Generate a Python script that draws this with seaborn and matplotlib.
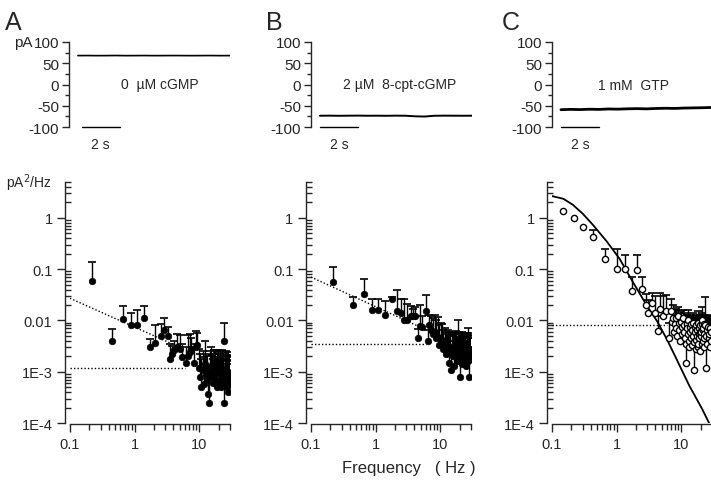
import numpy as np
import matplotlib
matplotlib.use("Agg")
import matplotlib.pyplot as plt
import seaborn as sns
from matplotlib.ticker import FixedLocator, FixedFormatter, LogLocator, NullFormatter

# ---- current traces (pA), sampled every 0.5 s
trace_t = [0.0, 0.5, 1.0, 1.5, 2.0, 2.5, 3.0, 3.5, 4.0, 4.5, 5.0, 5.5, 6.0, 6.5, 7.0, 7.5, 8.0]
trace_a = [68.0, 68.1, 67.9, 68.0, 68.2, 67.9, 68.0, 68.1, 67.9, 68.0, 68.1, 68.0, 67.9, 68.0, 68.1, 67.9, 68.0]
trace_b = [-73.5, -73.3, -73.6, -73.4, -73.2, -73.5, -73.4, -73.6, -73.3, -73.5, -74.8, -75.4, -73.6, -73.3, -73.4, -73.5, -73.4]
trace_c = [-59.3, -58.5, -59.0, -58.2, -58.6, -57.6, -58.0, -57.2, -56.8, -57.3, -56.4, -55.9, -56.3, -55.4, -55.0, -54.6, -54.0]
trace_labels = ["0  \u00b5M cGMP", "2 \u00b5M  8-cpt-cGMP", "1 mM  GTP"]
label_t = [4.3, 4.2, 3.8]
bar_start = [0.2, 0.0, 0.0]
bar_len = 2.0
top_ticks = [-100, -50, 0, 50, 100]
top_minor = [-75, -25, 25, 75]

# ---- power spectra (pA^2/Hz): frequency, mean, top of error bar
freq_a = [0.22, 0.44, 0.66, 0.88, 1.08, 1.40, 1.75, 2.10, 2.55, 2.85, 3.25, 3.55, 3.80, 4.10, 4.55,
          5.00, 5.50, 6.20, 6.70, 7.10, 7.60, 8.20, 8.80, 9.40, 9.90, 10.4, 10.8, 11.3, 11.8, 12.3,
          12.8, 13.2, 13.7, 14.2, 14.7, 15.2, 15.7, 16.2, 16.7, 17.2, 17.7, 18.2, 18.7, 19.2, 19.7,
          20.2, 20.7, 21.2, 21.7, 22.2, 22.7, 23.2, 23.8, 24.3, 24.8, 25.3, 25.8, 26.3, 26.8, 27.3,
          27.8, 28.3, 28.8, 29.3, 29.8]
psd_a = [0.060, 0.0039, 0.0105, 0.0080, 0.0081, 0.011, 0.0030, 0.0037, 0.0050, 0.0066, 0.0050, 0.0018,
         0.0022, 0.0027, 0.0030, 0.0028, 0.0019, 0.0015, 0.0020, 0.0024, 0.0028, 0.0015, 0.0030, 0.0033,
         0.0012, 0.0008, 0.00051, 0.0011, 0.00058, 0.0014, 0.0009, 0.0007, 0.00037, 0.00025, 0.0010,
         0.0013, 0.0008, 0.0006, 0.0011, 0.0009, 0.0013, 0.0007, 0.0005, 0.0010, 0.0012, 0.0006, 0.0009,
         0.0011, 0.0005, 0.0008, 0.0012, 0.0007, 0.0039, 0.00024, 0.0010, 0.0006, 0.0009, 0.0011, 0.0005,
         0.0008, 0.0004, 0.0010, 0.0007, 0.0009, 0.0006]
top_a = [0.14, 0.0068, 0.019, 0.014, 0.016, 0.019, 0.0043, 0.0080, 0.0085, 0.011, 0.0073, 0.0035,
         0.0032, 0.0040, 0.0055, 0.0052, 0.0035, 0.0030, 0.0052, 0.0055, 0.0045, 0.0035, 0.0063, 0.0058,
         0.0028, 0.0022, 0.0018, 0.0025, 0.0019, 0.0040, 0.0022, 0.0020, 0.0012, 0.0010, 0.0025,
         0.0030, 0.0021, 0.0018, 0.0026, 0.0022, 0.0027, 0.0019, 0.0016, 0.0024, 0.0026, 0.0018, 0.0022,
         0.0025, 0.0017, 0.0020, 0.0027, 0.0019, 0.0088, 0.0009, 0.0023, 0.0018, 0.0021, 0.0025, 0.0016,
         0.0020, 0.0014, 0.0024, 0.0019, 0.0021, 0.0017]

freq_b = [0.22, 0.44, 0.65, 0.87, 1.10, 1.40, 1.78, 2.15, 2.50, 2.80, 3.10, 3.50, 3.80, 4.10, 4.50,
          4.80, 5.20, 6.00, 6.40, 6.80, 7.20, 7.70, 8.20, 8.70, 9.20, 9.70, 10.2, 10.7, 11.2, 11.7,
          12.2, 12.7, 13.2, 13.6, 14.1, 14.6, 15.1, 15.6, 16.1, 16.6, 17.1, 17.6, 18.1, 18.6, 19.1,
          19.6, 20.1, 20.6, 21.1, 21.6, 22.1, 22.6, 23.1, 23.6, 24.1, 24.6, 25.1, 25.6, 26.1, 26.6,
          27.1, 27.6, 28.1, 28.6, 29.1, 29.6]
psd_b = [0.055, 0.020, 0.033, 0.016, 0.016, 0.013, 0.026, 0.0155, 0.014, 0.010, 0.010, 0.012, 0.012,
         0.012, 0.0046, 0.0078, 0.0075, 0.0155, 0.0039, 0.0080, 0.0065, 0.0055, 0.0060, 0.0045, 0.0048,
         0.0033, 0.0036, 0.0041, 0.0028, 0.0035, 0.0022, 0.0023, 0.0030, 0.0015, 0.0025, 0.00106,
         0.0030, 0.0020, 0.0027, 0.0013, 0.0022, 0.0030, 0.0016, 0.0025, 0.0021, 0.0033, 0.00079,
         0.0024, 0.0018, 0.0028, 0.0014, 0.0022, 0.0030, 0.0017, 0.0025, 0.0020, 0.0013, 0.0027,
         0.0019, 0.0024, 0.0016, 0.0008, 0.0022, 0.0028, 0.0018, 0.0023]
top_b = [0.11, 0.028, 0.064, 0.026, 0.026, 0.024, 0.029, 0.040, 0.026, 0.026, 0.021, 0.019, 0.017,
         0.018, 0.0069, 0.020, 0.012, 0.032, 0.0065, 0.013, 0.012, 0.011, 0.013, 0.010, 0.0115,
         0.0080, 0.0090, 0.0085, 0.0065, 0.0070, 0.0060, 0.0055, 0.0065, 0.0050, 0.0060, 0.0030,
         0.0058, 0.0052, 0.0060, 0.0040, 0.0055, 0.0062, 0.0045, 0.0058, 0.0100, 0.0060, 0.0022,
         0.0055, 0.0048, 0.0060, 0.0042, 0.0052, 0.0058, 0.0046, 0.0055, 0.0050, 0.0040, 0.0058,
         0.0048, 0.0070, 0.0045, 0.0025, 0.0052, 0.0057, 0.0046, 0.0050]

freq_c = [0.146, 0.218, 0.30, 0.43, 0.65, 1.00, 1.37, 1.76, 2.10, 2.50, 2.85, 3.10, 3.55, 4.00, 4.30,
          4.70, 5.30, 5.90, 6.50, 6.90, 7.2, 7.4, 7.7, 7.9, 8.2, 8.4, 8.7, 8.9, 9.2, 9.4, 9.7, 9.9,
          10.2, 10.4, 10.7, 10.9, 11.2, 11.4, 11.7, 11.9, 12.2, 12.4, 12.7, 12.9, 13.2, 13.4, 13.7,
          13.9, 14.2, 14.4, 14.7, 14.9, 15.2, 15.4, 15.7, 15.9, 16.2, 16.4, 16.7, 16.9, 17.2, 17.4,
          17.7, 17.9, 18.2, 18.4, 18.7, 18.9, 19.2, 19.4, 19.7, 19.9, 20.2, 20.4, 20.7, 20.9, 21.2,
          21.4, 21.7, 21.9, 22.2, 22.4, 22.7, 22.9, 23.4, 24.0, 24.5, 25.0, 25.5, 26.0, 26.5, 27.0,
          27.5, 28.0, 28.5, 29.0]
psd_c = [1.39, 1.00, 0.67, 0.42, 0.16, 0.10, 0.10, 0.037, 0.095, 0.041, 0.020, 0.0137, 0.022, 0.014,
         0.0062, 0.017, 0.012, 0.015, 0.0045, 0.015, 0.0095, 0.011, 0.0060, 0.0085, 0.011, 0.0070,
         0.0050, 0.012, 0.0090, 0.0065, 0.0040, 0.0095, 0.0075, 0.0055, 0.0110, 0.0080, 0.0060,
         0.0045, 0.0035, 0.0015, 0.0085, 0.0070, 0.0055, 0.0100, 0.0030, 0.0040, 0.0075, 0.0060,
         0.0045, 0.0085, 0.0065, 0.0033, 0.0090, 0.0050, 0.0038, 0.0011, 0.0060, 0.0075, 0.0042,
         0.0028, 0.0080, 0.0065, 0.0050, 0.0090, 0.0030, 0.0035, 0.0070, 0.0055, 0.0045, 0.0080,
         0.0060, 0.0025, 0.0050, 0.0060, 0.0085, 0.0100, 0.0035, 0.0040, 0.0065, 0.0070, 0.0055,
         0.0030, 0.0045, 0.0085, 0.0080, 0.0012, 0.0050, 0.0065, 0.0035, 0.0075, 0.0045, 0.0055,
         0.0030, 0.0070, 0.0040, 0.0060]
top_c = [np.nan, np.nan, np.nan, 0.59, 0.25, 0.25, 0.19, 0.07, 0.19, 0.07, 0.033, 0.025, 0.034, 0.030,
         0.012, 0.034, 0.030, 0.032, 0.009, 0.026, 0.015, 0.020, 0.011, 0.016, 0.017, 0.013, 0.010,
         0.018, 0.014, 0.012, 0.008, 0.015, 0.012, 0.011, 0.016, 0.014, 0.011, 0.0095, 0.0075,
         0.0048, 0.013, 0.013, 0.010, 0.016, 0.0070, 0.0085, 0.012, 0.012, 0.0090, 0.013, 0.011,
         0.0080, 0.014, 0.011, 0.0080, 0.0035, 0.011, 0.012, 0.0085, 0.0070, 0.013, 0.011, 0.010,
         0.015, 0.0070, 0.0080, 0.012, 0.010, 0.0090, 0.013, 0.011, 0.0065, 0.0095, 0.011, 0.014,
         0.018, 0.0075, 0.0085, 0.011, 0.012, 0.010, 0.0075, 0.0090, 0.013, 0.028, 0.004, 0.010,
         0.012, 0.008, 0.013, 0.009, 0.011, 0.007, 0.012, 0.009, 0.011]

# fitted components
slope_f = {"A": [0.1, 4.0], "B": [0.1, 6.0]}
slope_v = {"A": [0.027, 0.0034], "B": [0.070, 0.0066]}
flat_f = [0.1, 6.0]
flat_v = {"A": 0.0012, "B": 0.0034, "C": 0.008}
curve_f = [0.1, 0.15, 0.21, 0.30, 0.43, 0.70, 1.11, 1.76, 2.9, 4.27, 6.0, 8.4, 13.3, 21.0, 27.0, 30.0]
curve_v = [2.66, 2.35, 1.8, 1.2, 0.73, 0.35, 0.16, 0.058, 0.020, 0.0095, 0.0043, 0.0018, 0.00054,
           0.00019, 0.0001, 0.00008]

y_ticks = [1e-4, 1e-3, 0.01, 0.1, 1]
y_labels = ["1E-4", "1E-3", "0.01", "0.1", "1"]
x_ticks = [0.1, 1, 10]
x_labels = ["0.1", "1", "10"]

sns.set_style("ticks")
plt.rcParams["font.family"] = ["Liberation Sans", "DejaVu Sans"]
plt.rcParams["axes.linewidth"] = 1.0

W, H = 711, 481
fig = plt.figure(figsize=(W / 100, H / 100), dpi=100)
fig.patch.set_facecolor("white")

lefts_top = [69, 311, 552]
lefts_bot = [70, 311, 552]
traces = [trace_a, trace_b, trace_c]
trace_lw = [1.2, 1.4, 2.0]
letters = ["A", "B", "C"]
letter_x = [5, 266, 502]

# top row: current traces
for i in range(3):
    ax = fig.add_axes([lefts_top[i] / W, 1 - 128 / H, 161 / W, 85 / H])
    sns.lineplot(x=trace_t, y=traces[i], ax=ax, color="black", lw=trace_lw[i])
    ax.plot([bar_start[i], bar_start[i] + bar_len], [-100, -100], color="black", lw=1.0,
            clip_on=False)
    ax.annotate("2 s", xy=(bar_start[i] + bar_len / 2, -100), xytext=(0, -7),
                textcoords="offset points", ha="center", va="top", fontsize=10)
    ax.text(label_t[i], 0, trace_labels[i], ha="center", va="center", fontsize=10)
    ax.set_xlim(-0.47, 8.0)
    ax.set_ylim(-100, 100)
    for s in ["top", "right", "bottom"]:
        ax.spines[s].set_visible(False)
    ax.set_xticks([])
    ax.yaxis.set_major_locator(FixedLocator(top_ticks))
    ax.yaxis.set_minor_locator(FixedLocator(top_minor))
    ax.yaxis.set_major_formatter(FixedFormatter([str(v) for v in top_ticks]))
    ax.tick_params(axis="y", which="major", direction="out", length=5, width=1.0,
                   labelsize=11, pad=2)
    ax.tick_params(axis="y", which="minor", direction="out", length=3, width=1.0)
    ax.set_xlabel("")
    ax.set_ylabel("")
    ax.patch.set_alpha(0)
    fig.text(letter_x[i] / W, 1 - 11 / H, letters[i], fontsize=18, ha="left", va="top")

fig.text(33 / W, 1 - 43 / H, "pA", fontsize=11, ha="right", va="center")

# bottom row: power spectra
spectra = [(freq_a, psd_a, top_a), (freq_b, psd_b, top_b), (freq_c, psd_c, top_c)]
for i in range(3):
    f, v, t = (np.array(a, dtype=float) for a in spectra[i])
    ax = fig.add_axes([lefts_bot[i] / W, 1 - 424 / H, 160 / W, 241 / H])
    ax.set_xscale("log")
    ax.set_yscale("log")

    key = letters[i]
    if key in slope_f:
        ax.plot(slope_f[key], slope_v[key], color="black", lw=1.0, ls=(0, (1, 1.5)), zorder=1)
    ax.plot(flat_f, [flat_v[key], flat_v[key]], color="black", lw=1.0, ls=(0, (1, 1.5)), zorder=1)
    if key == "C":
        sns.lineplot(x=curve_f, y=curve_v, ax=ax, color="black", lw=1.3, zorder=2)

    ok = ~np.isnan(t)
    ax.vlines(f[ok], v[ok], t[ok], color="black", lw=1.0, zorder=3)
    ax.plot(f[ok], t[ok], ls="none", marker="_", ms=6, mew=1.2, color="black", zorder=3)
    if key == "C":
        sns.scatterplot(x=f, y=v, ax=ax, s=20, facecolor="white", edgecolor="black",
                        linewidth=1.0, zorder=4)
    else:
        sns.scatterplot(x=f, y=v, ax=ax, s=22, color="black", edgecolor="black",
                        linewidth=0.5, zorder=4)

    ax.set_xlim(0.1, 30)
    ax.set_ylim(1e-4, 5)
    for s in ["top", "right"]:
        ax.spines[s].set_visible(False)
    ax.spines["left"].set_position(("outward", 3.6))
    ax.spines["bottom"].set_position(("outward", 0.8))
    ax.xaxis.set_major_locator(FixedLocator(x_ticks))
    ax.xaxis.set_major_formatter(FixedFormatter(x_labels))
    ax.xaxis.set_minor_locator(LogLocator(base=10, subs=np.arange(2, 10), numticks=20))
    ax.xaxis.set_minor_formatter(NullFormatter())
    ax.yaxis.set_major_locator(FixedLocator(y_ticks))
    ax.yaxis.set_major_formatter(FixedFormatter(y_labels))
    ax.yaxis.set_minor_locator(LogLocator(base=10, subs=np.arange(2, 10), numticks=20))
    ax.yaxis.set_minor_formatter(NullFormatter())
    ax.tick_params(axis="both", which="major", direction="out", length=6, width=1.0,
                   labelsize=10.5, pad=3)
    ax.tick_params(axis="x", which="minor", direction="out", length=4, width=1.0)
    ax.tick_params(axis="y", which="minor", direction="in", length=4, width=1.0)
    ax.set_xlabel("")
    ax.set_ylabel("")
    ax.patch.set_alpha(0)

fig.text(52 / W, 1 - 183 / H, "pA$^2$/Hz", fontsize=10, ha="right", va="center")
fig.text(409 / W, 1 - 469 / H, "Frequency   ( Hz )", fontsize=12, ha="center", va="center")

fig.savefig("out.png", dpi=100, facecolor="white")
